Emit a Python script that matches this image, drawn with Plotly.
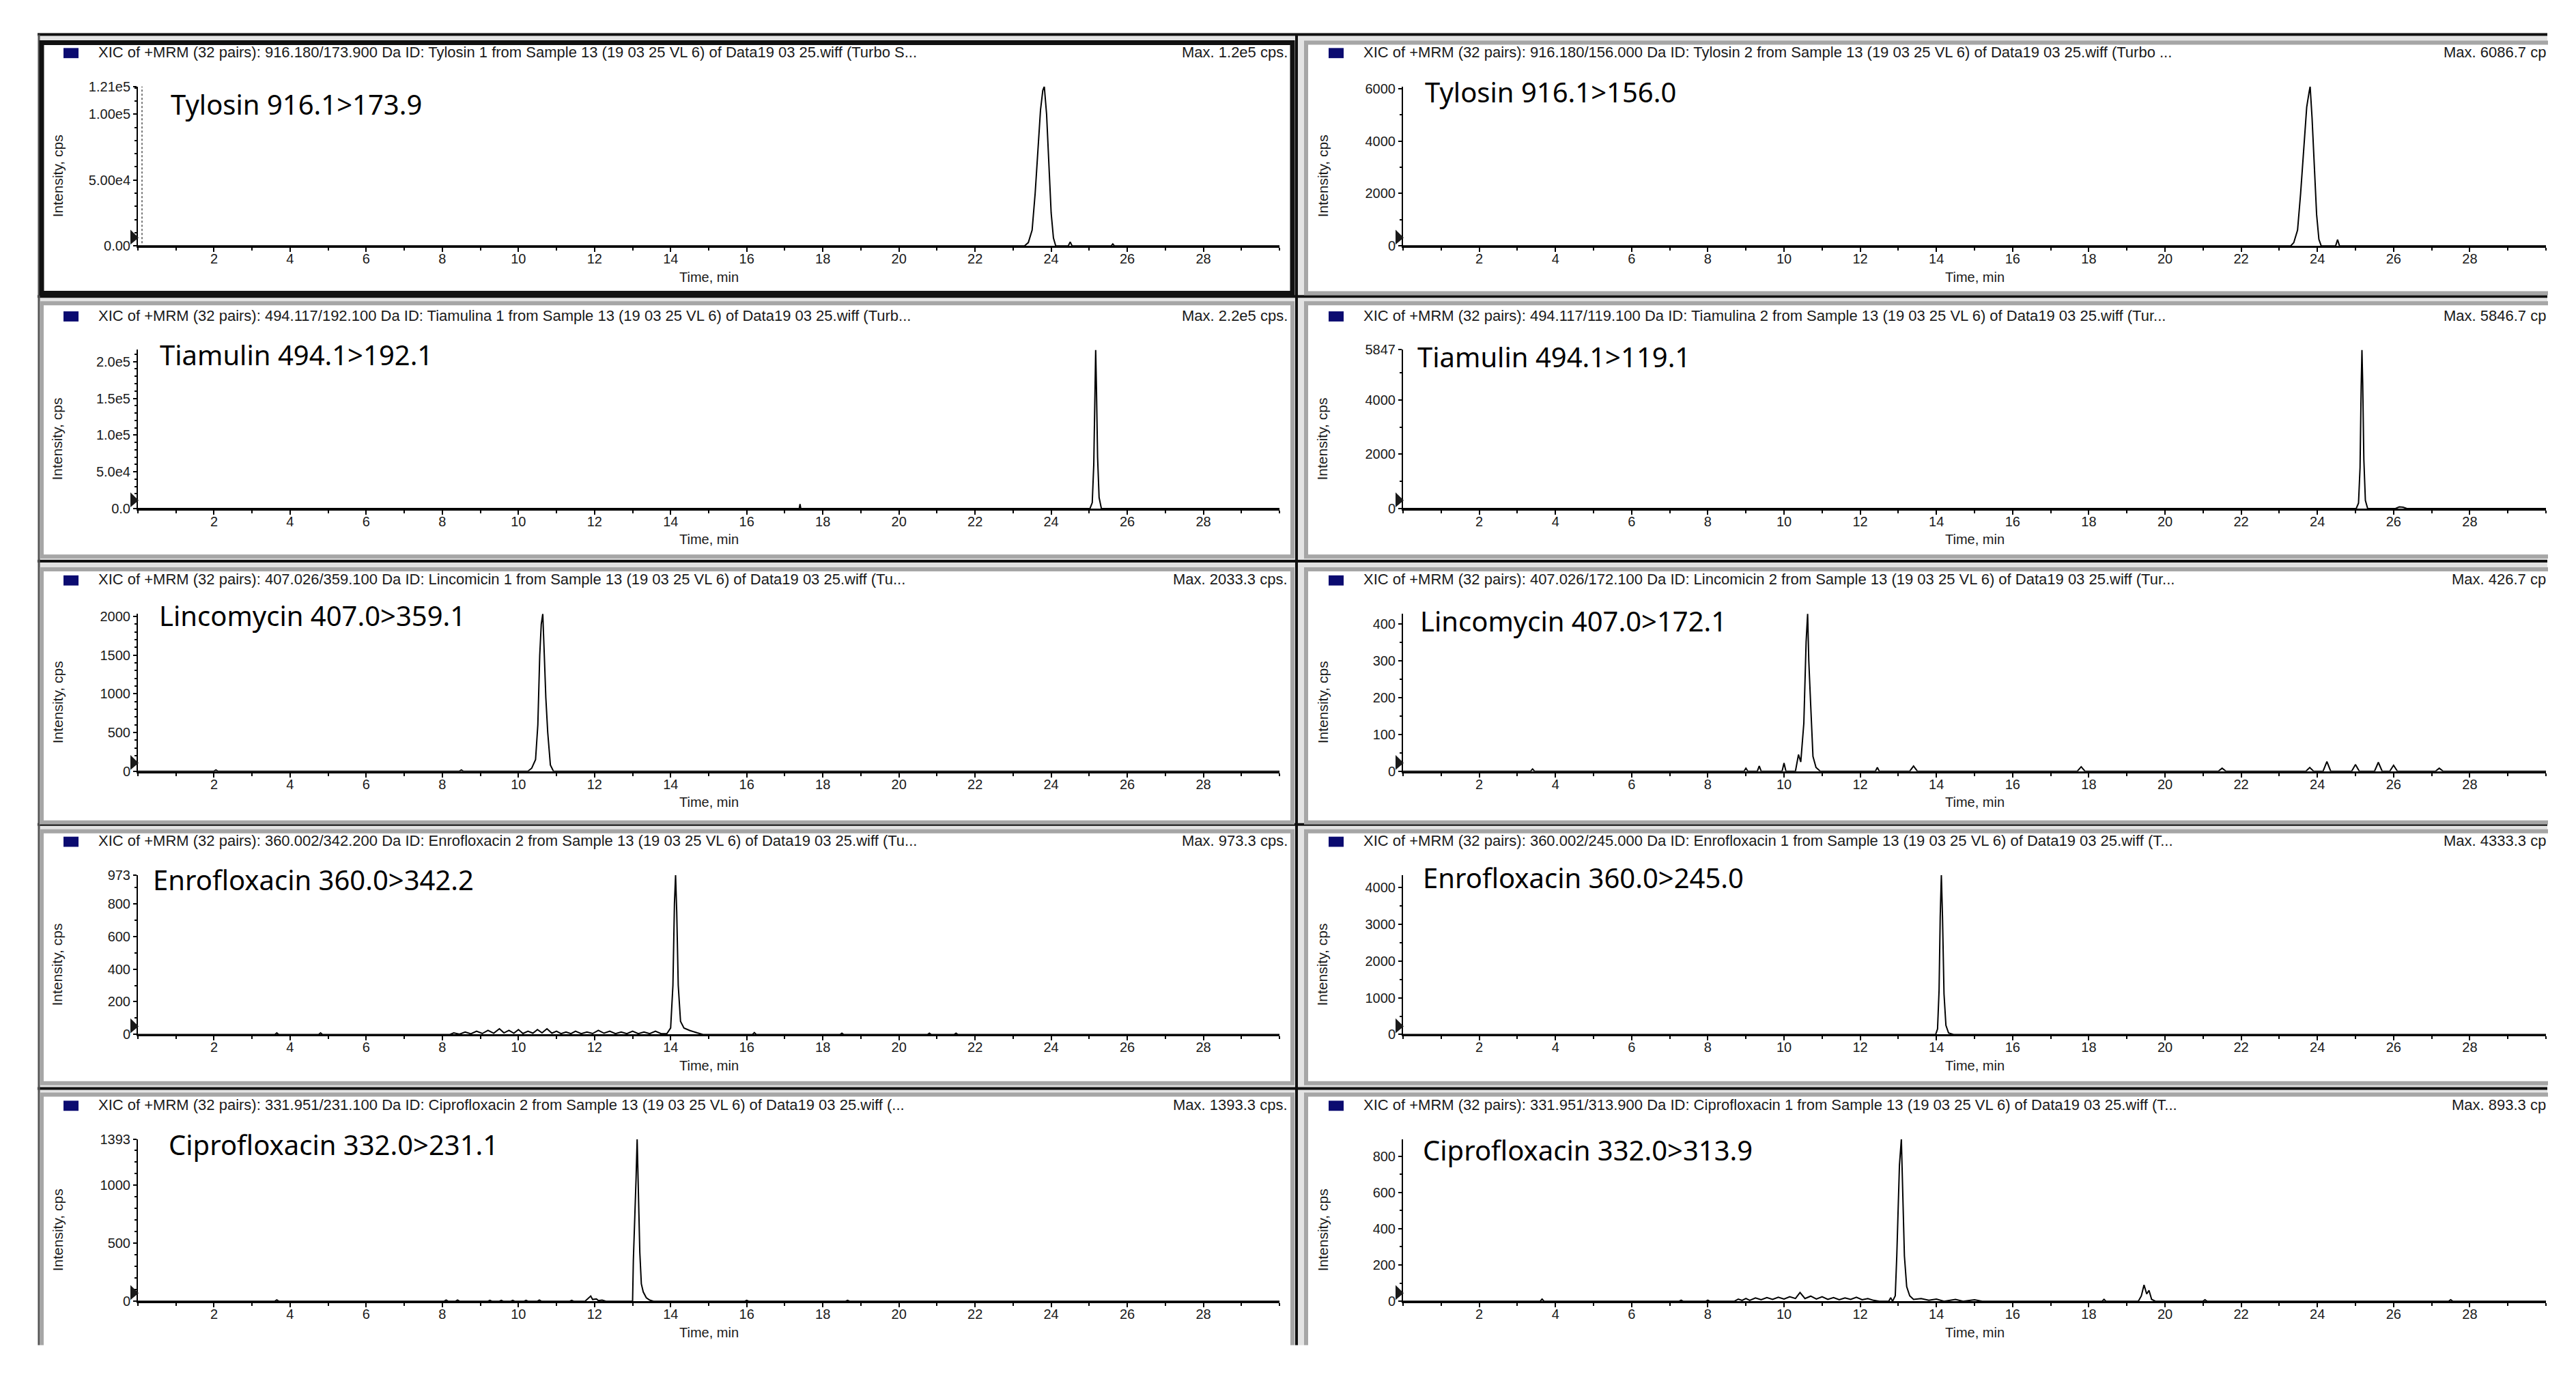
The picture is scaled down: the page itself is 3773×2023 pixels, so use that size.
import plotly.graph_objects as go

W, H = 3773, 2023

# ---------------- data ----------------
time_range = [0, 30]
time_ticks = [2, 4, 6, 8, 10, 12, 14, 16, 18, 20, 22, 24, 26, 28]
time_tick_labels = [str(t) for t in time_ticks]

compound_labels = [
    "Tylosin 916.1>173.9", "Tylosin 916.1>156.0",
    "Tiamulin 494.1>192.1", "Tiamulin 494.1>119.1",
    "Lincomycin 407.0>359.1", "Lincomycin 407.0>172.1",
    "Enrofloxacin 360.0>342.2", "Enrofloxacin 360.0>245.0",
    "Ciprofloxacin 332.0>231.1", "Ciprofloxacin 332.0>313.9",
]

xic_headers = [
    "XIC of +MRM (32 pairs): 916.180/173.900 Da ID: Tylosin 1 from Sample 13 (19 03 25 VL 6) of Data19 03 25.wiff (Turbo S...",
    "XIC of +MRM (32 pairs): 916.180/156.000 Da ID: Tylosin 2 from Sample 13 (19 03 25 VL 6) of Data19 03 25.wiff (Turbo ...",
    "XIC of +MRM (32 pairs): 494.117/192.100 Da ID: Tiamulina 1 from Sample 13 (19 03 25 VL 6) of Data19 03 25.wiff (Turb...",
    "XIC of +MRM (32 pairs): 494.117/119.100 Da ID: Tiamulina 2 from Sample 13 (19 03 25 VL 6) of Data19 03 25.wiff (Tur...",
    "XIC of +MRM (32 pairs): 407.026/359.100 Da ID: Lincomicin 1 from Sample 13 (19 03 25 VL 6) of Data19 03 25.wiff (Tu...",
    "XIC of +MRM (32 pairs): 407.026/172.100 Da ID: Lincomicin 2 from Sample 13 (19 03 25 VL 6) of Data19 03 25.wiff (Tur...",
    "XIC of +MRM (32 pairs): 360.002/342.200 Da ID: Enrofloxacin 2 from Sample 13 (19 03 25 VL 6) of Data19 03 25.wiff (Tu...",
    "XIC of +MRM (32 pairs): 360.002/245.000 Da ID: Enrofloxacin 1 from Sample 13 (19 03 25 VL 6) of Data19 03 25.wiff (T...",
    "XIC of +MRM (32 pairs): 331.951/231.100 Da ID: Ciprofloxacin 2 from Sample 13 (19 03 25 VL 6) of Data19 03 25.wiff (...",
    "XIC of +MRM (32 pairs): 331.951/313.900 Da ID: Ciprofloxacin 1 from Sample 13 (19 03 25 VL 6) of Data19 03 25.wiff (T...",
]

max_labels = [
    "Max. 1.2e5 cps.", "Max. 6086.7 cp",
    "Max. 2.2e5 cps.", "Max. 5846.7 cp",
    "Max. 2033.3 cps.", "Max. 426.7 cp",
    "Max. 973.3 cps.", "Max. 4333.3 cp",
    "Max. 1393.3 cps.", "Max. 893.3 cp",
]

intensity_max = [121000, 6086.7, 216000, 5847, 2033.3, 426.7, 973.3, 4333.3, 1393.3, 893.3]

intensity_tickvals = [
    [0, 50000, 100000, 121000],
    [0, 2000, 4000, 6000],
    [0, 50000, 100000, 150000, 200000],
    [0, 2000, 4000, 5847],
    [0, 500, 1000, 1500, 2000],
    [0, 100, 200, 300, 400],
    [0, 200, 400, 600, 800, 973],
    [0, 1000, 2000, 3000, 4000],
    [0, 500, 1000, 1393],
    [0, 200, 400, 600, 800],
]
intensity_ticktext = [
    ["0.00", "5.00e4", "1.00e5", "1.21e5"],
    ["0", "2000", "4000", "6000"],
    ["0.0", "5.0e4", "1.0e5", "1.5e5", "2.0e5"],
    ["0", "2000", "4000", "5847"],
    ["0", "500", "1000", "1500", "2000"],
    ["0", "100", "200", "300", "400"],
    ["0", "200", "400", "600", "800", "973"],
    ["0", "1000", "2000", "3000", "4000"],
    ["0", "500", "1000", "1393"],
    ["0", "200", "400", "600", "800"],
]
intensity_minor_step = [10000, 1000, 10000, 1000, 100, 50, 100, 500, 100, 100]

# chromatogram points (time, intensity)
tylosin_173 = [(0, 0), (23.30, 0), (23.40, 2500), (23.50, 12000), (23.58, 40000), (23.65, 70000),
               (23.72, 103000), (23.78, 118000), (23.82, 121000), (23.88, 100000), (23.94, 62000),
               (24.00, 25000), (24.06, 6000), (24.12, 0), (24.45, 0), (24.50, 3000), (24.55, 0),
               (25.58, 0), (25.62, 1500), (25.66, 0), (30, 0)]
tylosin_156 = [(0, 0), (23.30, 0), (23.38, 120), (23.48, 600), (23.56, 2000), (23.64, 3600),
               (23.72, 5300), (23.78, 5850), (23.81, 6087), (23.86, 4900), (23.92, 3000),
               (23.98, 1200), (24.04, 250), (24.10, 0), (24.48, 0), (24.53, 240), (24.58, 0), (30, 0)]
tiamulin_192 = [(0, 0), (17.38, 0), (17.40, 6000), (17.42, 0), (25.02, 0), (25.08, 8000),
                (25.12, 60000), (25.15, 170000), (25.17, 216000), (25.19, 165000), (25.22, 70000),
                (25.26, 15000), (25.32, 0), (30, 0)]
tiamulin_119 = [(0, 0), (25.02, 0), (25.08, 200), (25.12, 1500), (25.15, 4500), (25.17, 5847),
                (25.19, 4600), (25.22, 1800), (25.26, 300), (25.32, 0), (26.05, 0), (26.15, 60),
                (26.25, 50), (26.35, 0), (30, 0)]
lincomycin_359 = [(0, 0), (2.00, 0), (2.05, 15), (2.10, 0), (8.45, 0), (8.50, 15), (8.55, 0),
                  (10.25, 0), (10.35, 40), (10.45, 150), (10.51, 600), (10.56, 1500), (10.60, 1900),
                  (10.64, 2033), (10.68, 1500), (10.72, 950), (10.77, 500), (10.84, 80), (10.92, 0), (30, 0)]
lincomycin_172 = [(0, 0), (3.35, 0), (3.40, 6), (3.45, 0), (8.95, 0), (9.00, 8), (9.05, 0),
                  (9.30, 0), (9.35, 14), (9.40, 0), (9.95, 0), (10.00, 22), (10.05, 0), (10.30, 0),
                  (10.38, 45), (10.44, 25), (10.52, 130), (10.58, 350), (10.62, 427), (10.65, 300),
                  (10.70, 180), (10.76, 40), (10.84, 10), (10.95, 0), (12.40, 0), (12.45, 10),
                  (12.50, 0), (13.30, 0), (13.40, 14), (13.50, 0), (17.70, 0), (17.80, 12), (17.90, 0),
                  (21.40, 0), (21.50, 8), (21.60, 0), (23.70, 0), (23.80, 10), (23.90, 0), (24.15, 0),
                  (24.25, 26), (24.35, 0), (24.90, 0), (25.00, 18), (25.10, 0), (25.50, 0), (25.60, 24),
                  (25.70, 0), (25.90, 0), (26.00, 16), (26.10, 0), (27.10, 0), (27.20, 8), (27.30, 0), (30, 0)]
enrofloxacin_342 = [(0, 0), (3.60, 0), (3.65, 10), (3.70, 0), (4.75, 0), (4.80, 10), (4.85, 0),
                    (8.20, 0), (8.30, 10), (8.45, 2), (8.60, 15), (8.75, 4), (8.90, 20), (9.05, 6),
                    (9.20, 25), (9.35, 8), (9.50, 35), (9.62, 10), (9.75, 25), (9.88, 8), (10.00, 30),
                    (10.12, 6), (10.25, 20), (10.38, 8), (10.50, 30), (10.62, 10), (10.75, 35),
                    (10.88, 8), (11.00, 20), (11.12, 5), (11.25, 15), (11.38, 5), (11.50, 20),
                    (11.65, 5), (11.80, 15), (11.95, 6), (12.10, 25), (12.25, 8), (12.40, 20),
                    (12.55, 5), (12.70, 15), (12.85, 5), (13.00, 20), (13.15, 5), (13.30, 15),
                    (13.45, 5), (13.60, 20), (13.75, 5), (13.90, 5), (14.00, 40), (14.06, 300),
                    (14.10, 800), (14.13, 973), (14.16, 750), (14.20, 300), (14.26, 80), (14.35, 40),
                    (14.50, 25), (14.70, 10), (14.85, 0), (16.15, 0), (16.20, 12), (16.25, 0),
                    (18.45, 0), (18.50, 8), (18.55, 0), (20.75, 0), (20.80, 8), (20.85, 0),
                    (21.45, 0), (21.50, 8), (21.55, 0), (30, 0)]
enrofloxacin_245 = [(0, 0), (13.98, 0), (14.03, 150), (14.07, 1200), (14.10, 3200), (14.13, 4333),
                    (14.16, 3200), (14.20, 1100), (14.25, 250), (14.32, 40), (14.45, 0), (30, 0)]
ciprofloxacin_231 = [(0, 0), (3.60, 0), (3.65, 12), (3.70, 0), (8.05, 0), (8.10, 10), (8.15, 0),
                     (8.35, 0), (8.40, 10), (8.45, 0), (9.20, 0), (9.25, 8), (9.30, 0), (9.50, 0),
                     (9.55, 8), (9.60, 0), (9.80, 0), (9.85, 8), (9.90, 0), (10.15, 0), (10.20, 8),
                     (10.25, 0), (10.50, 0), (10.55, 10), (10.60, 0), (11.35, 0), (11.40, 8),
                     (11.45, 0), (11.75, 0), (11.85, 30), (11.90, 45), (11.95, 15), (12.05, 20),
                     (12.10, 5), (12.20, 10), (12.30, 0), (13.00, 0), (13.02, 350), (13.06, 700),
                     (13.09, 1040), (13.12, 1393), (13.15, 900), (13.19, 420), (13.23, 150),
                     (13.28, 80), (13.36, 30), (13.45, 10), (13.55, 0), (15.95, 0), (16.00, 8),
                     (16.05, 0), (18.60, 0), (18.65, 8), (18.70, 0), (30, 0)]
ciprofloxacin_314 = [(0, 0), (3.60, 0), (3.65, 12), (3.70, 0), (7.25, 0), (7.30, 6), (7.35, 0),
                     (7.95, 0), (8.00, 6), (8.05, 0), (8.70, 0), (8.80, 12), (8.90, 5), (9.00, 15),
                     (9.10, 5), (9.25, 18), (9.40, 8), (9.55, 20), (9.70, 10), (9.85, 22), (10.00, 12),
                     (10.15, 25), (10.30, 15), (10.42, 48), (10.55, 15), (10.70, 28), (10.85, 12),
                     (11.00, 25), (11.15, 10), (11.30, 20), (11.45, 8), (11.60, 18), (11.75, 10),
                     (11.90, 22), (12.05, 8), (12.20, 15), (12.35, 5), (12.50, 0), (12.75, 0),
                     (12.80, 20), (12.85, 0), (12.92, 30), (12.96, 250), (12.99, 480), (13.03, 750),
                     (13.08, 893), (13.12, 600), (13.16, 250), (13.22, 80), (13.30, 30), (13.40, 10),
                     (13.60, 15), (13.80, 5), (14.00, 12), (14.20, 0), (14.50, 10), (14.70, 0),
                     (15.00, 8), (15.20, 0), (18.35, 0), (18.40, 10), (18.45, 0), (19.30, 0),
                     (19.38, 30), (19.45, 90), (19.52, 40), (19.58, 60), (19.65, 10), (19.75, 0),
                     (21.00, 0), (21.05, 8), (21.10, 0), (27.45, 0), (27.50, 8), (27.55, 0), (30, 0)]

chromatograms = [tylosin_173, tylosin_156, tiamulin_192, tiamulin_119, lincomycin_359,
                 lincomycin_172, enrofloxacin_342, enrofloxacin_245, ciprofloxacin_231, ciprofloxacin_314]

# ---------------- layout geometry (pixels) ----------------
col_axis_x0 = [202, 2055]
col_axis_x1 = [1874, 3729]
row_axis_top = [117, 507, 898, 1285, 1676]
row_axis_bottom = [353, 742, 1131, 1521, 1916]
col_frame = [(61, 1893), (1913, 3760)]
row_frame = [(52, 423), (438, 813), (832, 1207), (1220, 1593), (1610, 1995)]
label_offsets = [(46, 26), (30, 8), (30, 7), (19, 10), (29, 2),
                 (23, 10), (20, 7), (27, 4), (43, 8), (27, 16)]
max_text_right = [1888, 3731]


def fx(px):
    return px / W


def fy(py):
    return 1 - py / H


FONT = "Liberation Sans, Arial, sans-serif"
fig = go.Figure()
shapes = []
annotations = []

# screenshot background + separators
shapes.append(dict(type="rect", xref="paper", yref="paper", x0=fx(55), x1=fx(3731), y0=fy(38), y1=fy(1985),
                   fillcolor="#e3e3e3", line=dict(width=0), layer="below"))
for yy in [40, 428, 820, 1210, 1601]:
    shapes.append(dict(type="line", xref="paper", yref="paper", x0=fx(55), x1=fx(3731), y0=fy(yy), y1=fy(yy),
                       line=dict(color="#111111", width=4), layer="below"))
shapes.append(dict(type="line", xref="paper", yref="paper", x0=fx(1899), x1=fx(1899), y0=fy(40), y1=fy(1985),
                   line=dict(color="#111111", width=4), layer="below"))
shapes.append(dict(type="line", xref="paper", yref="paper", x0=fx(57), x1=fx(57), y0=fy(40), y1=fy(1985),
                   line=dict(color="#555555", width=3), layer="below"))

layout_axes = {}
for i in range(10):
    r, c = divmod(i, 2)
    n = "" if i == 0 else str(i + 1)
    x0, x1 = col_axis_x0[c], col_axis_x1[c]
    top, bot = row_axis_top[r], row_axis_bottom[r]
    fr_x0, fr_x1 = col_frame[c]
    fr_y0, fr_y1 = row_frame[r]

    # panel frame
    shapes.append(dict(type="rect", xref="paper", yref="paper", x0=fx(fr_x0), x1=fx(fr_x1),
                       y0=fy(fr_y1), y1=fy(fr_y0), fillcolor="white",
                       line=dict(color="#111111" if i == 0 else "#a6a6a6", width=7 if i == 0 else 6),
                       layer="below"))
    # header square
    shapes.append(dict(type="rect", xref="paper", yref="paper", x0=fx(x0 - 109), x1=fx(x0 - 87),
                       y0=fy(top - 42), y1=fy(top - 57), fillcolor="#0b0b70", line=dict(width=0),
                       layer="below"))
    # baseline marker triangle
    shapes.append(dict(type="path", xref="paper", yref="paper",
                       path="M {a},{b} L {c},{d} L {a},{e} Z".format(
                           a=fx(x0 - 11), b=fy(bot - 24), c=fx(x0 + 1), d=fy(bot - 12), e=fy(bot - 2)),
                       fillcolor="#1a1a1a", line=dict(width=0), layer="above"))

    pts = chromatograms[i]
    fig.add_trace(go.Scatter(x=[p[0] for p in pts], y=[p[1] for p in pts], mode="lines",
                             line=dict(color="black", width=2), xaxis="x" + n, yaxis="y" + n,
                             hoverinfo="skip", showlegend=False))

    layout_axes["xaxis" + n] = dict(
        domain=[fx(x0), fx(x1)], anchor="y" + n, range=time_range,
        tickmode="array", tickvals=time_ticks, ticktext=time_tick_labels,
        ticks="outside", ticklen=6, tickwidth=2, tickcolor="black", ticklabelstandoff=-7,
        minor=dict(dtick=1, tick0=0, ticks="outside", ticklen=4, tickwidth=2, tickcolor="black"),
        showline=True, linecolor="black", linewidth=3, showgrid=False, zeroline=False,
        tickfont=dict(family=FONT, size=20, color="#1a1a1a"), fixedrange=True)
    layout_axes["yaxis" + n] = dict(
        domain=[fy(bot), fy(top)], anchor="x" + n, range=[0, intensity_max[i]],
        tickmode="array", tickvals=intensity_tickvals[i], ticktext=intensity_ticktext[i],
        ticks="outside", ticklen=5, tickwidth=2, tickcolor="black",
        minor=dict(dtick=intensity_minor_step[i], tick0=0, ticks="outside", ticklen=3, tickwidth=2,
                   tickcolor="black"),
        showline=True, linecolor="black", linewidth=2, showgrid=False, zeroline=False,
        tickfont=dict(family=FONT, size=20, color="#1a1a1a"), fixedrange=True)

    # header text and max text
    annotations.append(dict(xref="paper", yref="paper", x=fx(x0 - 60), y=fy(top - 51), xanchor="left",
                            yanchor="middle", text=xic_headers[i], showarrow=False,
                            font=dict(family=FONT, size=22, color="#1a1a1a")))
    annotations.append(dict(xref="paper", yref="paper", x=fx(max_text_right[c]), y=fy(top - 51),
                            xanchor="right", yanchor="middle", text=max_labels[i], showarrow=False,
                            font=dict(family=FONT, size=22, color="#1a1a1a")))
    # compound label
    dx, dy = label_offsets[i]
    annotations.append(dict(xref="paper", yref="paper", x=fx(x0 + dx), y=fy(top + dy), xanchor="left",
                            yanchor="middle", text=compound_labels[i], showarrow=False,
                            font=dict(family="Noto Sans, Open Sans, sans-serif", size=40, color="black")))
    # axis titles
    annotations.append(dict(xref="paper", yref="paper", x=fx(x0 - 118), y=fy((top + bot) / 2 + 15),
                            xanchor="center", yanchor="middle", text="Intensity, cps", textangle=-90,
                            showarrow=False, font=dict(family=FONT, size=21, color="#1a1a1a")))
    annotations.append(dict(xref="paper", yref="paper", x=fx((x0 + x1) / 2), y=fy(bot + 46),
                            xanchor="center", yanchor="middle", text="Time, min", showarrow=False,
                            font=dict(family=FONT, size=20, color="#1a1a1a")))

# dotted selection line in the first panel
shapes.append(dict(type="line", xref="paper", yref="paper", x0=fx(208), x1=fx(208),
                   y0=fy(row_axis_bottom[0] - 4), y1=fy(row_axis_top[0]),
                   line=dict(color="#777777", width=2, dash="dot"), layer="above"))

# crop of the screenshot (right and bottom edges)
shapes.append(dict(type="rect", xref="paper", yref="paper", x0=fx(3732), x1=1.0, y0=0, y1=1,
                   fillcolor="white", line=dict(width=0), layer="above"))
shapes.append(dict(type="rect", xref="paper", yref="paper", x0=0, x1=1.0, y0=0, y1=fy(1981),
                   fillcolor="white", line=dict(width=0), layer="above"))

fig.update_layout(
    width=W, height=H, margin=dict(l=0, r=0, t=0, b=0),
    paper_bgcolor="white", plot_bgcolor="white", showlegend=False,
    shapes=shapes, annotations=annotations, **layout_axes)

fig.write_html("out.html")
